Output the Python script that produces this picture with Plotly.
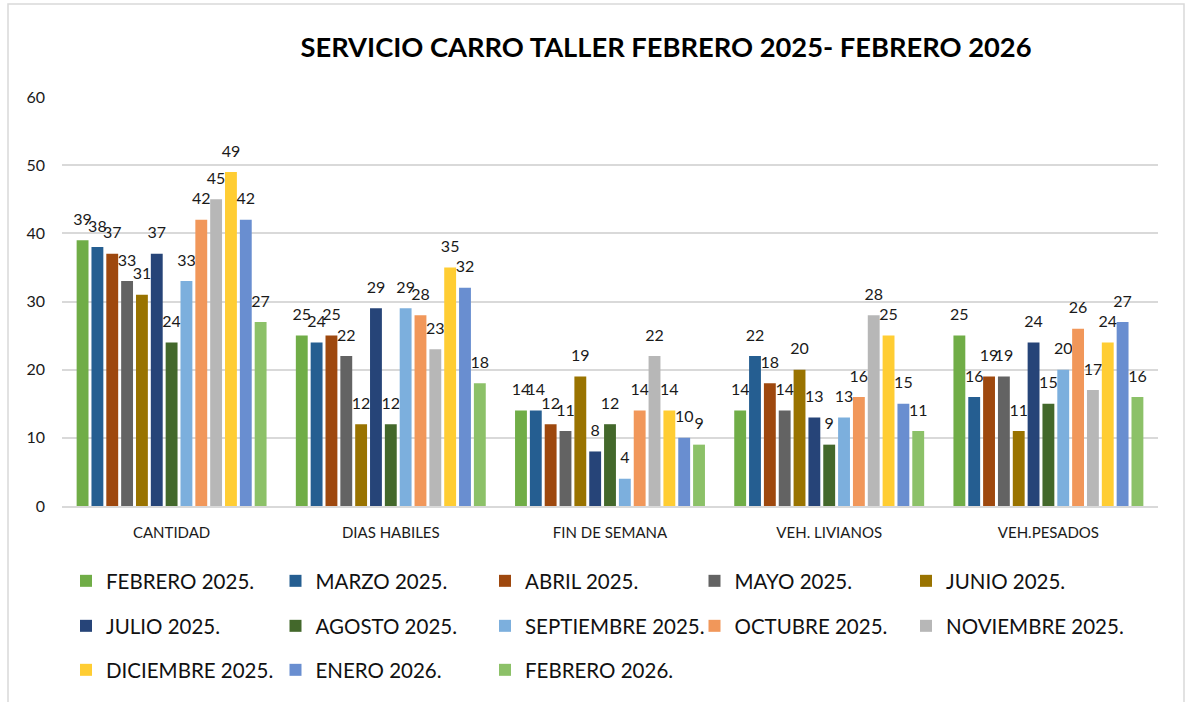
import plotly.graph_objects as go

# Categories on the x axis
categorias = ["CANTIDAD", "DIAS HABILES", "FIN DE SEMANA", "VEH. LIVIANOS", "VEH.PESADOS"]

# Monthly series (one value per category)
febrero_2025 = [39, 25, 14, 14, 25]
marzo_2025 = [38, 24, 14, 22, 16]
abril_2025 = [37, 25, 12, 18, 19]
mayo_2025 = [33, 22, 11, 14, 19]
junio_2025 = [31, 12, 19, 20, 11]
julio_2025 = [37, 29, 8, 13, 24]
agosto_2025 = [24, 12, 12, 9, 15]
septiembre_2025 = [33, 29, 4, 13, 20]
octubre_2025 = [42, 28, 14, 16, 26]
noviembre_2025 = [45, 23, 22, 28, 17]
diciembre_2025 = [49, 35, 14, 25, 24]
enero_2026 = [42, 32, 10, 15, 27]
febrero_2026 = [27, 18, 9, 11, 16]

# name, values, colour, legend block (row / last column split so long names are not clipped)
series = [
    ("FEBRERO 2025.", febrero_2025, "#70AD47", "legend"),
    ("MARZO 2025.", marzo_2025, "#255E91", "legend"),
    ("ABRIL 2025.", abril_2025, "#9E480E", "legend"),
    ("MAYO 2025.", mayo_2025, "#636363", "legend"),
    ("JUNIO 2025.", junio_2025, "#997300", "legend4"),
    ("JULIO 2025.", julio_2025, "#264478", "legend2"),
    ("AGOSTO 2025.", agosto_2025, "#43682B", "legend2"),
    ("SEPTIEMBRE 2025.", septiembre_2025, "#7CAFDD", "legend2"),
    ("OCTUBRE 2025.", octubre_2025, "#F1975A", "legend2"),
    ("NOVIEMBRE 2025.", noviembre_2025, "#B7B7B7", "legend5"),
    ("DICIEMBRE 2025.", diciembre_2025, "#FFCD33", "legend3"),
    ("ENERO 2026.", enero_2026, "#698ED0", "legend3"),
    ("FEBRERO 2026.", febrero_2026, "#8CC168", "legend3"),
]

FONT = "Lato, Carlito, Calibri, sans-serif"

fig = go.Figure()
for nombre, valores, color, leyenda in series:
    fig.add_trace(go.Bar(
        name=nombre,
        x=categorias,
        y=valores,
        marker=dict(color=color, line=dict(width=0)),
        text=valores,
        # value label at 16px, with a small spacer line beneath it to lift it off the bar
        texttemplate="<span style='font-size:16px'>%{text}</span><br>&nbsp;",
        textposition="outside",
        constraintext="none",
        textfont=dict(family=FONT, size=8, color="#1a1a1a"),
        cliponaxis=False,
        legend=leyenda,
    ))

W, H = 1186, 702
ML, MR, MT, MB = 62, 28, 97, 196
pw = W - ML - MR
ph = H - MT - MB


def px_x(px):
    return (px - ML) / pw


def px_y(py):
    return (H - MB - py) / ph


legend_common = dict(
    orientation="h",
    xanchor="left",
    yanchor="middle",
    x=px_x(66),
    entrywidth=164.5,
    entrywidthmode="pixels",
    font=dict(family=FONT, size=20.5, color="#111111"),
    bgcolor="rgba(0,0,0,0)",
    itemclick=False,
    itemdoubleclick=False,
)
col5_x = px_x(66 + 4 * 210)

fig.update_layout(
    width=W,
    height=H,
    margin=dict(l=ML, r=MR, t=MT, b=MB),
    paper_bgcolor="white",
    plot_bgcolor="white",
    barmode="group",
    bargap=0.12,
    bargroupgap=0.2,
    title=dict(
        text="<b>SERVICIO CARRO TALLER FEBRERO 2025- FEBRERO 2026</b>",
        x=px_x(666),
        xref="paper",
        xanchor="center",
        y=1 - 47 / H,
        yanchor="middle",
        font=dict(family=FONT, size=27.3, color="#000000"),
    ),
    font=dict(family=FONT, color="#1a1a1a"),
    xaxis=dict(
        showgrid=False,
        showline=True,
        linecolor="#d9d9d9",
        linewidth=1.5,
        ticks="",
        tickfont=dict(family=FONT, size=15, color="#1a1a1a"),
        ticklabelstandoff=12,
    ),
    yaxis=dict(
        range=[0, 60],
        dtick=10,
        showgrid=True,
        gridcolor="#d9d9d9",
        gridwidth=1.5,
        zeroline=False,
        showline=False,
        ticks="",
        tickfont=dict(family=FONT, size=16, color="#1a1a1a"),
        ticklabelstandoff=16,
    ),
    legend=dict(legend_common, y=px_y(581)),
    legend2=dict(legend_common, y=px_y(626)),
    legend3=dict(legend_common, y=px_y(670)),
    legend4=dict(legend_common, x=col5_x, y=px_y(581), entrywidth=200),
    legend5=dict(legend_common, x=col5_x, y=px_y(626), entrywidth=200),
    shapes=[
        dict(
            type="rect",
            xref="paper",
            yref="paper",
            x0=px_x(8),
            x1=px_x(1184),
            y0=px_y(720),
            y1=px_y(4),
            line=dict(color="#d9d9d9", width=1.5),
            fillcolor="rgba(0,0,0,0)",
            layer="below",
        )
    ],
)

fig.write_html("out.html")
